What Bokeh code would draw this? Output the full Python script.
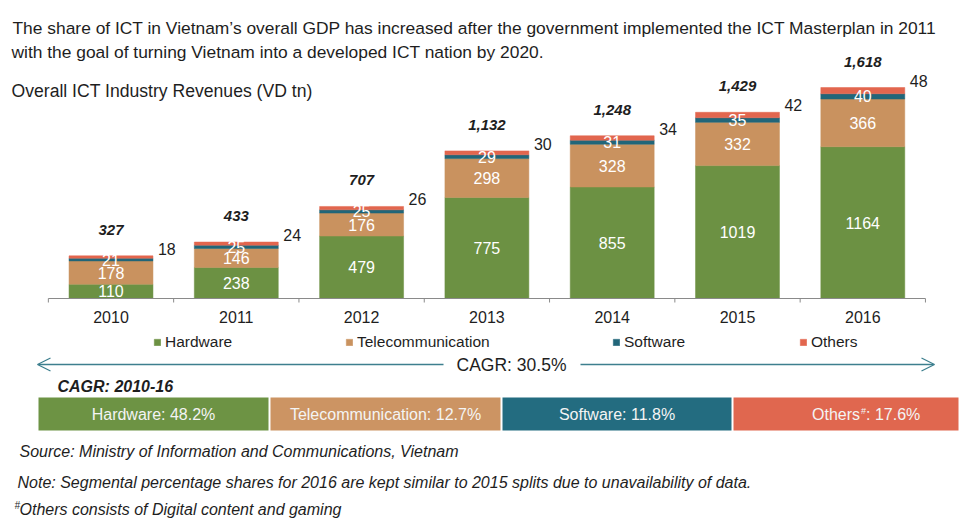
import numpy as np
from bokeh.plotting import figure
from bokeh.models import (ColumnDataSource, Label, BoxAnnotation, Arrow, OpenHead,
                          Legend, LegendItem, Range1d)
from bokeh.core.properties import value
from bokeh.embed import file_html
from bokeh.resources import INLINE

# ---------------- data ----------------
years = ["2010", "2011", "2012", "2013", "2014", "2015", "2016"]
hardware = [110, 238, 479, 775, 855, 1019, 1164]
telecom = [178, 146, 176, 298, 328, 332, 366]
software = [21, 25, 25, 29, 31, 35, 40]
others = [18, 24, 26, 30, 34, 42, 48]
totals = [327, 433, 707, 1132, 1248, 1429, 1618]
series_names = ["Hardware", "Telecommunication", "Software", "Others"]
cagr_names = ["Hardware", "Telecommunication", "Software", "Others#"]
cagr_values = [48.2, 12.7, 11.8, 17.6]
overall_cagr = 30.5

title_lines = [
    "The share of ICT in Vietnam\u2019s overall GDP has increased after the government implemented the ICT Masterplan in 2011",
    "with the goal of turning Vietnam into a developed ICT nation by 2020.",
]
subtitle = "Overall ICT Industry Revenues (VD tn)"
source_note = "Source: Ministry of Information and Communications, Vietnam"
split_note = "Note: Segmental percentage shares for 2016 are kept similar to 2015 splits due to unavailability of data."
others_note = "Others consists of Digital content and gaming"

# ---------------- style ----------------
FONT = "Liberation Sans"
colors = ["#6C9143", "#C9925F", "#216679", "#E2664E"]
box_colors = ["#6D9344", "#CC9463", "#236C80", "#E0674F"]
arrow_color = "#3D7F8E"
text_color = "#1E1E1E"
axis_color = "#8A8A8A"

W, H = 962, 520
slot_px = 125.3       # pixels per category
first_px = 110.5      # centre of first category (px from left)
base_px = 222         # zero line (px from bottom)
k = 0.1304            # px per VND tn

x_start = -first_px / slot_px
x_end = x_start + W / slot_px
y_start = -base_px / k
y_end = y_start + H / k

p = figure(width=W, height=H, x_range=Range1d(x_start, x_end), y_range=Range1d(y_start, y_end),
           x_axis_location=None, y_axis_location=None, toolbar_location=None,
           output_backend="svg", min_border=0, outline_line_color=None,
           background_fill_color="white", border_fill_color="white")
p.xgrid.visible = False
p.ygrid.visible = False

idx = np.arange(len(years))
src = ColumnDataSource(dict(x=idx, Hardware=hardware, Telecommunication=telecom,
                            Software=software, Others=others))
rends = p.vbar_stack(series_names, x="x", width=0.67, source=src,
                     fill_color=colors, line_color=colors, line_width=0.5)

arr = np.array([hardware, telecom, software, others], dtype=float)
bottoms = np.vstack([np.zeros(len(years)), np.cumsum(arr, axis=0)[:-1]])
mids = bottoms + arr / 2
tops = arr.sum(axis=0)

# white segment labels
for s, vals in enumerate([hardware, telecom, software]):
    p.text(x=idx, y=mids[s], text=[str(v) for v in vals], text_color="white",
           text_align="center", text_baseline="middle",
           text_font=value(FONT), text_font_size="16px")

# others labels beside bar
p.text(x=idx + 0.335, y=tops, text=[str(v) for v in others], x_offset=5, y_offset=-7,
       text_color=text_color, text_align="left", text_baseline="middle",
       text_font=value(FONT), text_font_size="16px")

# totals
p.text(x=idx, y=tops, text=[f"{t:,}" for t in totals], y_offset=-26,
       text_color=text_color, text_align="center", text_baseline="middle",
       text_font=value(FONT), text_font_size="15px", text_font_style="bold italic")

# axis line, ticks at category boundaries, year labels
bnds = np.arange(len(years) + 1) - 0.5
p.segment(x0=bnds[0], y0=0, x1=bnds[-1], y1=0, line_color=axis_color, line_width=1)
p.segment(x0=bnds, y0=np.zeros(len(bnds)), x1=bnds, y1=np.full(len(bnds), -4 / k),
          line_color=axis_color, line_width=1)
p.text(x=idx, y=np.zeros(len(years)), text=years, y_offset=18,
       text_color=text_color, text_align="center", text_baseline="middle",
       text_font=value(FONT), text_font_size="16px")

# legends (one per item to match the uneven spacing)
leg_x = [153, 345, 612, 799]
for i, name in enumerate(series_names):
    leg = Legend(items=[LegendItem(label=name, renderers=[rends[i]])],
                 location=(leg_x[i], 169), orientation="horizontal",
                 glyph_width=8, glyph_height=8, label_standoff=4,
                 padding=0, margin=0, spacing=0, label_height=18,
                 border_line_color=None, background_fill_alpha=0,
                 label_text_font=FONT, label_text_font_size="15.5px",
                 label_text_color=text_color)
    p.add_layout(leg)

def lbl(text, x, y, size, style="normal", align="left", baseline="alphabetic", color=text_color):
    p.add_layout(Label(text=text, x=x, y=y, x_units="screen", y_units="screen",
                       text_font=FONT, text_font_size=size, text_font_style=style,
                       text_align=align, text_baseline=baseline, text_color=color))

# title & subtitle
lbl(title_lines[0], 12, H - 27, "17.4px")
lbl(title_lines[1], 11, H - 51, "17.4px")
lbl(subtitle, 11, H - 90, "17.6px")

# overall CAGR arrow
cy = H - 364
p.add_layout(Arrow(end=OpenHead(size=13, line_color=arrow_color, line_width=1.3),
                   x_start=443, y_start=cy, x_end=37, y_end=cy,
                   start_units="screen", end_units="screen",
                   line_color=arrow_color, line_width=1.3))
p.add_layout(Arrow(end=OpenHead(size=13, line_color=arrow_color, line_width=1.3),
                   x_start=580, y_start=cy, x_end=934, y_end=cy,
                   start_units="screen", end_units="screen",
                   line_color=arrow_color, line_width=1.3))
lbl(f"CAGR: {overall_cagr}%", 511, cy, "17.5px", align="center", baseline="middle")

# segment CAGR strip
lbl("CAGR: 2010-16", 57, H - 386, "16px", style="bold italic", baseline="middle")
box_l = [38, 270, 502, 733]
box_r = [268, 500, 731, 958]
bt, bb = H - 397, H - 430
for i, name in enumerate(cagr_names):
    l, r = box_l[i], box_r[i]
    p.add_layout(BoxAnnotation(left=l, right=r, top=bt, bottom=bb,
                               left_units="screen", right_units="screen",
                               top_units="screen", bottom_units="screen",
                               fill_color=box_colors[i], fill_alpha=1.0, line_color=None))
    cx = (l + r) / 2
    ty = H - 414
    if name.endswith("#"):
        base = name[:-1]
        # "Others" + superscript "#" + ": 17.6%"
        lbl(base, cx + 14, ty, "16px", align="right", baseline="middle", color="#F4F4F4")
        lbl("#", cx + 15, ty + 4, "9px", align="left", baseline="middle", color="#F4F4F4")
        lbl(f": {cagr_values[i]}%", cx + 20, ty, "16px", align="left", baseline="middle", color="#F4F4F4")
    else:
        lbl(f"{name}: {cagr_values[i]}%", cx, ty, "16px", align="center", baseline="middle", color="#F4F4F4")

# footnotes
lbl(source_note, 19, H - 451, "16px", style="italic", baseline="middle")
lbl(split_note, 17, H - 482, "16px", style="italic", baseline="middle")
lbl("#", 14, H - 505, "10px", style="italic", baseline="middle")
lbl(others_note, 19, H - 509, "16px", style="italic", baseline="middle")

open("out.html", "w").write(file_html(p, INLINE))
